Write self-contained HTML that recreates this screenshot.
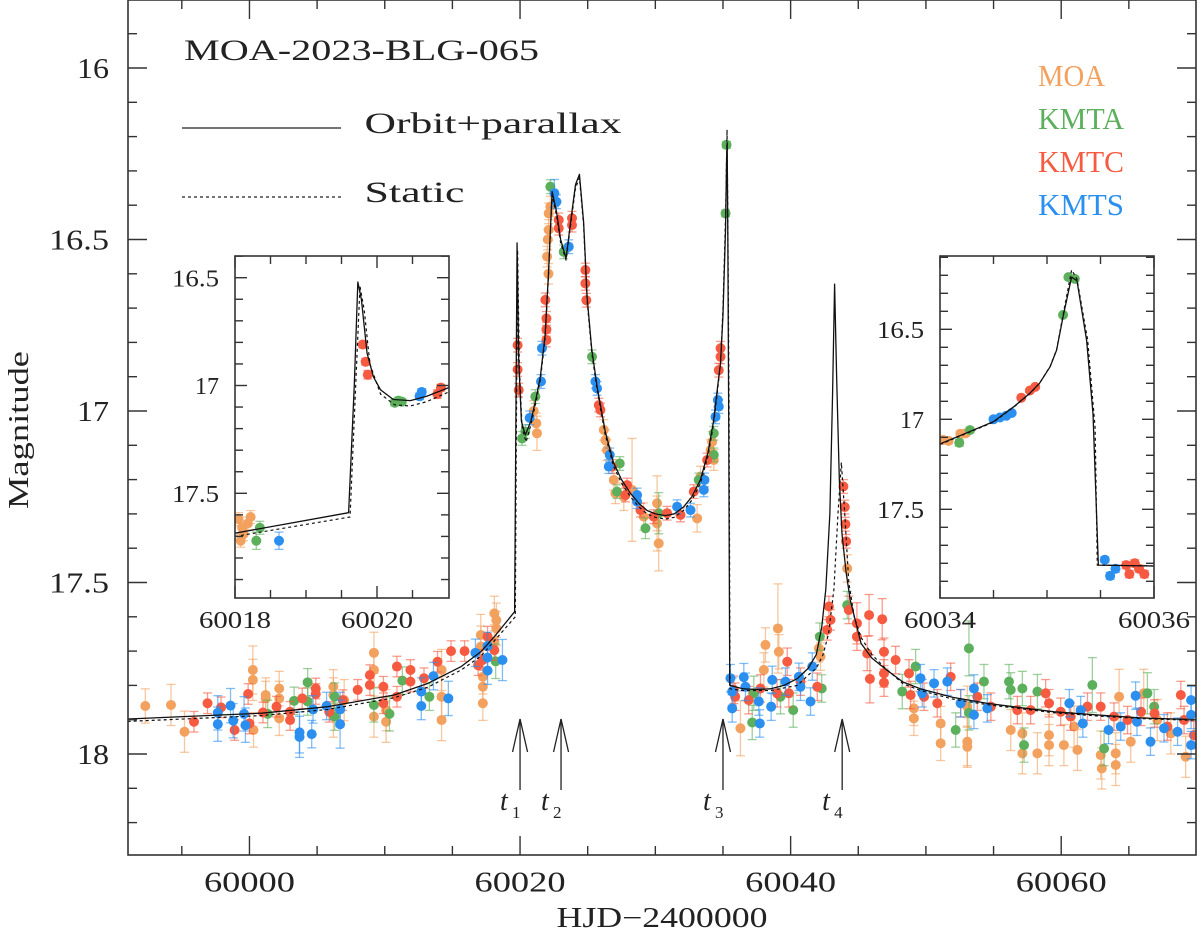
<!DOCTYPE html>
<html><head><meta charset="utf-8"><title>MOA-2023-BLG-065</title>
<style>
html,body{margin:0;padding:0;background:#fff;}
svg{display:block;}
text{font-family:"Liberation Serif","DejaVu Serif",serif;fill:#222;}
</style></head>
<body>
<svg id="chart" width="1200" height="930" viewBox="0 0 1200 930" xmlns="http://www.w3.org/2000/svg">
<defs>
<clipPath id="clipMain"><rect x="128" y="0" width="1068" height="855"/></clipPath>
<clipPath id="clipL"><rect x="235" y="256" width="214" height="342"/></clipPath>
<clipPath id="clipR"><rect x="940" y="256" width="214" height="342"/></clipPath>
</defs>
<rect x="0" y="0" width="1200" height="930" fill="#fff"/>
<g id="mainData" clip-path="url(#clipMain)"></g>
<g id="mainAxes"></g>
<rect x="235" y="256" width="214" height="342" fill="#fff"/>
<g id="insetLData" clip-path="url(#clipL)"></g>
<g id="insetLAxes"></g>
<rect x="940" y="256" width="214" height="342" fill="#fff"/>
<g id="insetRData" clip-path="url(#clipR)"></g>
<g id="insetRAxes"></g>

<text x="184" y="60" font-size="30" textLength="355" lengthAdjust="spacingAndGlyphs">MOA-2023-BLG-065</text>
<line x1="182" y1="128" x2="341" y2="128" stroke="#222" stroke-width="1.3"/>
<text x="364.5" y="133" font-size="30" textLength="257" lengthAdjust="spacingAndGlyphs">Orbit+parallax</text>
<line x1="182" y1="197" x2="341" y2="197" stroke="#222" stroke-width="1.3" stroke-dasharray="3,3"/>
<text x="364.5" y="202" font-size="30" textLength="100" lengthAdjust="spacingAndGlyphs">Static</text>
<text x="1038" y="86" font-size="31" textLength="67" lengthAdjust="spacingAndGlyphs" style="fill:#f3a15f">MOA</text>
<text x="1038" y="129" font-size="31" textLength="86" lengthAdjust="spacingAndGlyphs" style="fill:#5cb05c">KMTA</text>
<text x="1038" y="172" font-size="31" textLength="86" lengthAdjust="spacingAndGlyphs" style="fill:#f65a40">KMTC</text>
<text x="1038" y="215" font-size="31" textLength="86" lengthAdjust="spacingAndGlyphs" style="fill:#2b8ff0">KMTS</text>
<text transform="translate(28,430) rotate(-90)" text-anchor="middle" font-size="29" textLength="158" lengthAdjust="spacingAndGlyphs">Magnitude</text>
<text x="662" y="927" text-anchor="middle" font-size="28" textLength="211" lengthAdjust="spacingAndGlyphs">HJD−2400000</text>
<g id="arrows"></g>
</svg>
<script>
// ---------- data ----------
const seriesNames = ['MOA','KMTA','KMTC','KMTS'];
const seriesColors = ['#f3a15f','#5cb05c','#f65a40','#2b8ff0'];

const moaMain = [[59992.3,17.86,0.05],[59994.2,17.857,0.06],[59995.2,17.935,0.06],[60000.25,17.755,0.07],[60000.25,17.784,0.06],[60000.3,17.93,0.05],[60001.2,17.828,0.05],[60001.2,17.838,0.05],[60002.2,17.809,0.05],[60002.2,17.838,0.05],[60002.2,17.896,0.05],[60006.2,17.804,0.05],[60006.2,17.828,0.05],[60006.2,17.891,0.06],[60007.0,17.843,0.06],[60009.2,17.705,0.06],[60009.2,17.755,0.05],[60009.2,17.891,0.06],[60010.1,17.872,0.06],[60010.1,17.906,0.06],[60014.2,17.755,0.06],[60014.2,17.833,0.06],[60014.2,17.901,0.06],[60017.1,17.653,0.06],[60017.1,17.687,0.06],[60017.25,17.775,0.05],[60017.25,17.804,0.05],[60017.25,17.852,0.05],[60018.1,17.59,0.05],[60018.25,17.61,0.05],[60018.25,17.634,0.05],[60018.1,17.673,0.05],
[60021.01,17.0,0.03],[60021.2,17.036,0.03],[60021.25,17.065,0.05],[60022.0,16.55,0.03],[60022.12,16.472,0.03],[60022.12,16.424,0.03],[60022.24,16.404,0.03],[60022.05,16.5,0.03],[60022.1,16.6,0.03],[60026.19,17.055,0.03],[60026.31,17.085,0.03],[60026.43,17.114,0.03],[60026.93,17.201,0.03],[60027.05,17.24,0.03],[60027.67,17.25,0.04],[60028.28,17.23,0.15],[60029.14,17.308,0.04],[60030.13,17.269,0.08],[60030.25,17.386,0.08],[60030.13,17.328,0.08],[60033.09,17.313,0.04],[60034.08,17.114,0.03],[60034.2,17.09,0.03],[60034.32,17.143,0.03],[60033.34,17.191,0.03],
[60036.29,17.925,0.08],[60038.02,17.755,0.05],[60038.14,17.682,0.05],[60039.06,17.634,0.13],[60039.13,17.702,0.05],[60042.09,17.692,0.04],[60042.21,17.716,0.04],[60044.18,17.459,0.04],[60049.11,17.896,0.05],[60049.11,17.867,0.05],[60051.09,17.969,0.05],[60051.09,17.911,0.05],[60053.06,17.964,0.07],[60053.06,17.979,0.06],[60053.06,17.862,0.06],[60056.27,17.93,0.06],[60057.13,17.94,0.06],[60057.13,17.998,0.06],[60058.24,17.998,0.06],[60059.1,17.945,0.06],[60059.1,17.974,0.06],[60060.2,17.974,0.06],[60061.2,17.988,0.06],[60060.95,17.92,0.06],[60062.92,18.003,0.07],[60063.0,18.042,0.06],[60064.03,17.998,0.06],[60064.03,18.032,0.06],[60064.28,17.833,0.08],[60065.14,17.964,0.06],[60066.1,17.823,0.07],[60067.1,17.901,0.06],[60068.1,17.94,0.06],[60069.2,18.008,0.06]];

const kmtaMain = [[60001.35,17.883,0.04],[60003.3,17.845,0.04],[60004.3,17.791,0.04],[60004.3,17.847,0.04],[60006.3,17.833,0.04],[60006.3,17.891,0.04],[60009.2,17.857,0.05],[60010.35,17.883,0.05],[60011.3,17.786,0.04],[60013.3,17.833,0.04],[60018.2,17.73,0.05],
[60020.15,17.08,0.02],[60020.39,17.06,0.02],[60021.13,16.958,0.02],[60022.24,16.346,0.02],[60023.23,16.536,0.02],[60025.32,16.842,0.02],[60027.37,17.153,0.02],[60027.17,17.235,0.02],[60029.27,17.342,0.03],[60030.25,17.298,0.06],[60034.32,17.065,0.02],[60034.32,17.128,0.02],[60035.26,16.224,0.01],[60035.19,16.424,0.01],[60033.21,17.201,0.02],
[60037.16,17.908,0.05],[60037.28,17.823,0.05],[60039.25,17.833,0.05],[60040.19,17.872,0.05],[60042.16,17.658,0.04],[60042.3,17.809,0.04],[60044.18,17.566,0.04],[60048.25,17.818,0.05],[60049.24,17.745,0.05],[60052.2,17.93,0.05],[60053.18,17.692,0.08],[60053.18,17.88,0.05],[60054.29,17.789,0.05],[60056.14,17.789,0.05],[60056.27,17.813,0.05],[60057.13,17.809,0.05],[60057.25,17.974,0.05],[60058.24,17.818,0.05],[60062.3,17.799,0.08],[60063.17,17.984,0.05],[60066.37,17.823,0.06],[60066.87,17.862,0.05]];

const kmtcMain = [[59995.9,17.906,0.03],[59996.9,17.852,0.03],[59997.9,17.864,0.03],[59998.9,17.93,0.03],[59999.9,17.825,0.03],[60000.0,17.911,0.03],[60001.0,17.879,0.03],[60002.0,17.862,0.03],[60003.0,17.901,0.03],[60003.0,17.877,0.03],[60003.9,17.838,0.03],[60004.9,17.809,0.03],[60004.9,17.825,0.03],[60005.9,17.877,0.03],[60006.9,17.843,0.03],[60008.0,17.813,0.03],[60008.9,17.77,0.03],[60008.9,17.799,0.03],[60009.9,17.804,0.03],[60009.9,17.852,0.03],[60010.9,17.745,0.03],[60010.9,17.833,0.03],[60011.9,17.755,0.03],[60011.9,17.789,0.03],[60012.9,17.779,0.03],[60013.9,17.731,0.03],[60014.9,17.70,0.03],[60015.9,17.70,0.03],[60016.9,17.741,0.03],[60017.25,17.726,0.03],[60018.1,17.697,0.03],[60017.6,17.658,0.03],
[60019.82,16.808,0.02],[60019.82,16.879,0.02],[60019.9,16.939,0.02],[60021.87,16.676,0.02],[60021.95,16.73,0.02],[60021.95,16.762,0.02],[60021.95,16.793,0.02],[60022.86,16.443,0.02],[60022.86,16.467,0.02],[60023.84,16.438,0.02],[60023.84,16.458,0.02],[60024.83,16.589,0.02],[60024.83,16.628,0.02],[60024.9,16.677,0.02],[60025.82,16.983,0.02],[60025.94,16.997,0.02],[60026.8,17.162,0.02],[60027.79,17.245,0.02],[60027.91,17.216,0.02],[60028.9,17.289,0.02],[60029.88,17.308,0.02],[60030.87,17.298,0.02],[60031.86,17.303,0.02],[60032.84,17.235,0.02],[60033.83,17.143,0.02],[60034.69,16.881,0.02],[60034.82,16.842,0.02],[60034.82,16.817,0.02],
[60035.8,17.813,0.04],[60035.9,17.833,0.04],[60036.9,17.843,0.04],[60037.77,17.809,0.04],[60039.0,17.823,0.04],[60039.75,17.731,0.04],[60039.87,17.823,0.04],[60040.73,17.789,0.04],[60041.97,17.804,0.04],[60042.83,17.57,0.03],[60042.95,17.609,0.03],[60042.7,17.638,0.03],[60043.9,17.22,0.02],[60044.0,17.28,0.02],[60044.05,17.33,0.02],[60044.1,17.38,0.02],[60044.3,17.58,0.04],[60044.9,17.619,0.06],[60044.9,17.658,0.04],[60045.8,17.595,0.06],[60046.77,17.607,0.06],[60045.66,17.707,0.05],[60045.86,17.781,0.07],[60046.9,17.702,0.04],[60046.9,17.765,0.04],[60046.9,17.792,0.04],[60047.76,17.726,0.04],[60048.75,17.765,0.04],[60048.87,17.828,0.04],[60049.86,17.833,0.04],[60050.84,17.852,0.04],[60051.83,17.775,0.04],[60052.57,17.852,0.04],[60053.8,17.833,0.04],[60054.8,17.862,0.04],[60056.76,17.872,0.04],[60057.74,17.872,0.04],[60058.85,17.823,0.04],[60059.1,17.852,0.04],[60059.96,17.877,0.04],[60060.7,17.891,0.04],[60061.94,17.862,0.04],[60062.92,17.862,0.04],[60063.9,17.891,0.04],[60064.9,17.901,0.04],[60065.9,17.877,0.04],[60066.9,17.882,0.04],[60067.85,17.92,0.04],[60068.84,17.828,0.04],[60069.08,17.901,0.04],[60069.8,17.945,0.04]];

const kmtsMain = [[59997.66,17.88,0.05],[59997.66,17.913,0.05],[59998.6,17.859,0.05],[59998.8,17.903,0.05],[59999.6,17.883,0.05],[59999.7,17.916,0.05],[60003.7,17.937,0.06],[60003.7,17.95,0.06],[60004.6,17.942,0.04],[60004.7,17.87,0.04],[60005.7,17.86,0.04],[60006.7,17.87,0.05],[60006.7,17.913,0.07],[60012.7,17.818,0.04],[60012.7,17.86,0.04],[60013.6,17.773,0.04],[60014.7,17.838,0.05],[60016.7,17.705,0.04],[60017.6,17.685,0.04],[60017.6,17.719,0.04],[60017.6,17.757,0.04],[60018.7,17.726,0.06],
[60020.71,17.02,0.02],[60021.62,16.817,0.02],[60021.55,16.914,0.02],[60022.54,16.365,0.04],[60022.69,16.39,0.02],[60023.6,16.521,0.02],[60025.57,16.914,0.02],[60025.69,16.934,0.02],[60026.56,17.162,0.02],[60026.63,17.128,0.02],[60028.65,17.245,0.02],[60028.65,17.264,0.02],[60031.61,17.279,0.02],[60032.6,17.289,0.02],[60033.58,17.23,0.02],[60033.63,17.201,0.02],[60034.45,17.017,0.02],[60034.62,16.968,0.02],[60034.69,16.987,0.02],
[60035.55,17.779,0.04],[60035.68,17.818,0.04],[60035.68,17.867,0.04],[60036.54,17.776,0.04],[60036.66,17.804,0.04],[60037.65,17.847,0.04],[60037.72,17.911,0.04],[60038.64,17.784,0.04],[60038.56,17.862,0.04],[60039.62,17.789,0.04],[60040.61,17.775,0.04],[60040.73,17.804,0.04],[60041.47,17.847,0.04],[60041.6,17.745,0.04],[60049.6,17.779,0.04],[60049.73,17.823,0.04],[60050.6,17.794,0.04],[60051.58,17.789,0.04],[60052.57,17.852,0.04],[60053.55,17.809,0.04],[60053.55,17.886,0.04],[60054.54,17.867,0.04],[60060.6,17.852,0.04],[60061.44,17.872,0.04],[60061.6,17.911,0.04],[60063.5,17.93,0.04],[60064.4,17.92,0.04],[60065.5,17.83,0.04],[60065.6,17.906,0.04],[60066.6,17.964,0.04],[60067.6,17.925,0.04],[60068.6,17.935,0.04],[60069.6,17.843,0.04],[60069.6,17.886,0.04],[60069.6,17.974,0.04]];

// model curves (main)
const solidT = [59991,60000.9,60005.8,60010.7,60013.2,60015.65,60017.1,60018.1,60019.6,60019.68,60019.78,60019.9,60020.1,60020.39,60020.8,60021.2,60021.5,60021.85,60022.1,60022.37,60022.7,60023.0,60023.4,60023.8,60024.1,60024.39,60024.7,60024.96,60025.3,60025.7,60026.3,60026.9,60027.5,60028.16,60028.8,60029.39,60030.0,60030.75,60031.4,60032.08,60032.7,60033.34,60033.9,60034.3,60034.6,60034.82,60035.0,60035.19,60035.27,60035.31,60035.36,60035.42,60035.5,60036.5,60037.5,60038.5,60039.5,60040.5,60041.3,60041.9,60042.3,60042.6,60042.9,60043.1,60043.25,60043.4,60043.6,60043.8,60044.1,60044.4,60045.2,60046,60047.1,60048.3,60049.6,60052,60054.5,60057,60059.5,60063,60066,60070];
const solidM = [17.898,17.881,17.862,17.828,17.794,17.745,17.702,17.658,17.585,17.1,16.51,16.85,17.03,17.07,17.03,16.96,16.90,16.78,16.6,16.36,16.42,16.5,16.555,16.43,16.34,16.31,16.45,16.67,16.82,16.93,17.06,17.15,17.20,17.24,17.27,17.29,17.30,17.305,17.30,17.28,17.25,17.20,17.12,17.03,16.93,16.86,16.72,16.47,16.26,16.22,16.5,17.0,17.80,17.81,17.812,17.81,17.80,17.78,17.75,17.71,17.63,17.52,17.3,16.95,16.63,16.9,17.2,17.36,17.47,17.55,17.677,17.72,17.755,17.79,17.81,17.835,17.852,17.865,17.877,17.887,17.895,17.90];
const staticT = [59991,60000.9,60005.8,60010.7,60013.2,60015.65,60017.1,60018.1,60019.65,60019.72,60019.82,60019.95,60020.15,60020.45,60020.8,60021.2,60021.5,60021.85,60022.1,60022.37,60022.7,60023.0,60023.4,60023.8,60024.1,60024.39,60024.7,60024.96,60025.3,60025.7,60026.3,60026.9,60027.5,60028.16,60028.8,60029.39,60030.0,60030.75,60031.4,60032.08,60032.7,60033.34,60033.9,60034.3,60034.6,60034.82,60035.0,60035.2,60035.3,60035.36,60035.45,60035.52,60036.5,60038.5,60040.5,60041.3,60041.9,60042.4,60042.8,60043.2,60043.5,60043.75,60044.0,60044.3,60044.7,60045.2,60046,60047,60048.3,60049.6,60052,60054.5,60057,60059.5,60063,60066,60070];
const staticM = [17.905,17.888,17.87,17.836,17.805,17.755,17.715,17.67,17.6,17.1,16.53,16.87,17.05,17.09,17.04,16.97,16.91,16.79,16.61,16.37,16.43,16.51,16.56,16.44,16.35,16.32,16.46,16.68,16.83,16.94,17.07,17.16,17.21,17.25,17.28,17.3,17.31,17.315,17.31,17.29,17.26,17.21,17.13,17.04,16.94,16.86,16.70,16.42,16.18,16.45,17.0,17.81,17.815,17.815,17.80,17.77,17.75,17.71,17.65,17.52,17.3,17.15,17.3,17.5,17.6,17.66,17.71,17.75,17.795,17.815,17.84,17.856,17.868,17.88,17.89,17.897,17.902];

// left inset
const moaInsetL = [[60018.05,17.62,0.03],[60018.1,17.66,0.03],[60018.12,17.69,0.03],[60018.18,17.64,0.03],[60018.22,17.61,0.03],[60018.08,17.72,0.03]];
const kmtaInsetL = [[60018.3,17.72,0.04],[60018.35,17.66,0.03],[60020.25,17.08,0.015],[60020.3,17.07,0.015],[60020.35,17.075,0.015]];
const kmtcInsetL = [[60019.8,16.81,0.015],[60019.84,16.89,0.015],[60019.87,16.95,0.02],[60020.85,17.04,0.02],[60020.9,17.01,0.015]];
const kmtsInsetL = [[60018.62,17.72,0.04],[60020.6,17.05,0.015],[60020.63,17.03,0.015]];
const insetLSolidT = [60018,60019.6,60019.68,60019.73,60019.78,60019.86,60019.95,60020.05,60020.23,60020.47,60020.7,60021.01];
const insetLSolidM = [17.685,17.59,17.0,16.52,16.6,16.85,16.96,17.02,17.065,17.07,17.05,17.01];
const insetLStaticT = [60018,60019.62,60019.7,60019.76,60019.82,60019.9,60020.05,60020.25,60020.47,60020.7,60021.01];
const insetLStaticM = [17.70,17.61,17.0,16.54,16.65,16.9,17.04,17.09,17.095,17.075,17.03];

// right inset
const moaInsetR = [[60034.03,17.115,0.015],[60034.08,17.12,0.015],[60034.19,17.08,0.015],[60034.24,17.078,0.015]];
const kmtaInsetR = [[60034.18,17.13,0.02],[60034.28,17.06,0.015],[60035.15,16.42,0.01],[60035.2,16.21,0.01],[60035.26,16.22,0.01]];
const kmtcInsetR = [[60034.76,16.88,0.01],[60034.84,16.84,0.01],[60034.89,16.82,0.01],[60035.74,17.81,0.02],[60035.77,17.86,0.02],[60035.82,17.8,0.02],[60035.86,17.83,0.02],[60035.91,17.86,0.02]];
const kmtsInsetR = [[60034.5,17.0,0.01],[60034.56,16.99,0.01],[60034.62,16.98,0.01],[60034.67,16.965,0.01],[60035.54,17.78,0.015],[60035.59,17.87,0.02],[60035.64,17.83,0.02]];
const insetRSolidT = [60034,60034.25,60034.5,60034.69,60034.84,60034.93,60035.03,60035.09,60035.15,60035.23,60035.28,60035.37,60035.43,60035.48,60036];
const insetRSolidM = [17.137,17.075,17.013,16.93,16.855,16.80,16.707,16.615,16.43,16.21,16.23,16.56,16.97,17.81,17.815];
const insetRStaticT = [60034,60034.25,60034.5,60034.69,60034.84,60034.93,60035.03,60035.09,60035.15,60035.23,60035.28,60035.38,60035.45,60035.47,60036];
const insetRStaticM = [17.14,17.078,17.016,16.932,16.857,16.80,16.705,16.612,16.42,16.17,16.22,16.56,17.05,17.81,17.815];

// ticks
const mainXMajor = [60000,60020,60040,60060];
const mainXMinor = [59995,60005,60010,60015,60025,60030,60035,60045,60050,60055,60065];
const mainYMajor = ['16','16.5','17','17.5','18'];
const insetLXMajor = ['60018','60020'];
const insetRXMajor = ['60034','60036'];
const insetYMajor = ['16.5','17','17.5'];
const causticLabels = ['1','2','3','4'];
const causticTimes = [60020.0,60023.03,60035.0,60043.81];

// ---------- helpers ----------
const NS='http://www.w3.org/2000/svg';
function mk(tag, attrs, parent){const e=document.createElementNS(NS,tag);for(const k in attrs)e.setAttribute(k,attrs[k]);parent.appendChild(e);return e;}

function axes(x0,x1,t0,t1,y0,y1,m0,m1){
  return {x:t=>x0+(t-t0)/(t1-t0)*(x1-x0), y:m=>y0+(m-m0)/(m1-m0)*(y1-y0), x0,x1,y0,y1};
}
const AM = axes(127.7,1196.5,59991,60070, 68,754,16,18);
const AL = axes(235,377,60018,60020, 277.7,493.3,16.5,17.5);
const AR = axes(940,1154,60034,60036, 329.3,509.3,16.5,17.5);

function drawPoints(g, data, color, A, key){
  const grp=mk('g',{},g);
  
  
  data.forEach(p=>{
    const x=A.x(p[0]), y=A.y(p[1]), ya=A.y(p[1]-p[2]), yb=A.y(p[1]+p[2]);
    const eg=mk('g',{stroke:color,'stroke-opacity':0.6,'stroke-width':1.3},grp);
    
    
    mk('line',{x1:x,y1:ya,x2:x,y2:yb},eg);
    mk('line',{x1:x-4.5,y1:ya,x2:x+4.5,y2:ya},eg);
    mk('line',{x1:x-4.5,y1:yb,x2:x+4.5,y2:yb},eg);
    const c=mk('circle',{cx:x,cy:y,r:5,fill:color},grp);
    
    
  });
}
function drawCurve(g, T, M, A, dashed, key){
  let d='';
  for(let i=0;i<T.length;i++){d+=(i?'L':'M')+A.x(T[i]).toFixed(2)+','+A.y(M[i]).toFixed(2);}
  const p=mk('path',{d:d,fill:'none',stroke:'#111','stroke-width':dashed?1.2:1.3,'stroke-dasharray':dashed?'3,3':'none','stroke-linejoin':'round'},g);
  
  
}
function frame(g, A, xMaj, xMin, yMaj, yMinStart, yMinEnd, majL, minL, xLab, yLab, fsz, xTL, xBase, yRight){
  const r=mk('rect',{x:A.x0,y:A.y0box,width:A.x1-A.x0,height:A.y1box-A.y0box,fill:'none',stroke:'#333','stroke-width':1.6},g);
  
  
  const tg=mk('g',{stroke:'#333','stroke-width':1.4},g);
  
  
  xMaj.forEach(v=>{const x=A.x(+v);mk('line',{x1:x,y1:A.y1box,x2:x,y2:A.y1box-majL},tg);mk('line',{x1:x,y1:A.y0box,x2:x,y2:A.y0box+majL},tg);});
  xMin.forEach(v=>{const x=A.x(v);mk('line',{x1:x,y1:A.y1box,x2:x,y2:A.y1box-minL},tg);mk('line',{x1:x,y1:A.y0box,x2:x,y2:A.y0box+minL},tg);});
  for(let k=Math.round(yMinStart*10);k<=Math.round(yMinEnd*10);k++){
    const m=k/10, y=A.y(m);
    const isMaj = yMaj.some(v=>Math.abs(+v-m)<1e-6);
    const L=isMaj?majL:minL;
    mk('line',{x1:A.x0,y1:y,x2:A.x0+L,y2:y},tg);
    mk('line',{x1:A.x1,y1:y,x2:A.x1-L,y2:y},tg);
  }
  if(xLab){xMaj.forEach(v=>{
    const t=mk('text',{x:A.x(+v),y:xBase,'text-anchor':'middle','font-size':fsz,textLength:xTL,lengthAdjust:'spacingAndGlyphs'},g);
    t.textContent=String(v);
    
    
  });}
  if(yLab){yMaj.forEach(v=>{
    const w = v.length>2 ? (fsz>26?60:47) : (fsz>26?32:24);
    const t=mk('text',{x:yRight,y:A.y(+v)+fsz*0.36,'text-anchor':'end','font-size':fsz,textLength:w,lengthAdjust:'spacingAndGlyphs'},g);
    t.textContent=v;
    
    
  });}
}

// ---------- main ----------
const gMain=document.getElementById('mainData');
const mainSets=[moaMain,kmtaMain,kmtcMain,kmtsMain];
mainSets.forEach((s,i)=>drawPoints(gMain,s,seriesColors[i],AM,'main-'+seriesNames[i].toLowerCase()));
drawCurve(gMain,staticT,staticM,AM,true,'static-model-curve');
drawCurve(gMain,solidT,solidM,AM,false,'orbit-parallax-model-curve');
AM.y0box=0; AM.y1box=855; AM.x0=128; AM.x1=1196;
frame(document.getElementById('mainAxes'),AM,mainXMajor,mainXMinor,mainYMajor,15.9,18.2,19,9,true,true,28,91,891.5,109);

// ---------- left inset ----------
const gL=document.getElementById('insetLData');
[moaInsetL,kmtaInsetL,kmtcInsetL,kmtsInsetL].forEach((s,i)=>drawPoints(gL,s,seriesColors[i],AL,'inset-left-'+seriesNames[i].toLowerCase()));
drawCurve(gL,insetLStaticT,insetLStaticM,AL,true,'inset-left-static-curve');
drawCurve(gL,insetLSolidT,insetLSolidM,AL,false,'inset-left-orbit-curve');
AL.x0=235; AL.x1=449; AL.y0box=256; AL.y1box=598;
frame(document.getElementById('insetLAxes'),AL,insetLXMajor,[60018.5,60019,60019.5,60020.5],insetYMajor,16.4,17.9,12,8,true,true,24,72,628,219);

// ---------- right inset ----------
const gR=document.getElementById('insetRData');
[moaInsetR,kmtaInsetR,kmtcInsetR,kmtsInsetR].forEach((s,i)=>drawPoints(gR,s,seriesColors[i],AR,'inset-right-'+seriesNames[i].toLowerCase()));
drawCurve(gR,insetRStaticT,insetRStaticM,AR,true,'inset-right-static-curve');
drawCurve(gR,insetRSolidT,insetRSolidM,AR,false,'inset-right-orbit-curve');
AR.x0=940; AR.x1=1154; AR.y0box=256; AR.y1box=598;
frame(document.getElementById('insetRAxes'),AR,insetRXMajor,[60034.5,60035,60035.5],insetYMajor,16.1,17.9,12,8,true,true,24,72,628,924);

// ---------- caustic arrows ----------
const gA=document.getElementById('arrows');
causticTimes.forEach((t,i)=>{
  const x=AM.x(t);
  const g=mk('g',{},gA);
  
  
  mk('line',{x1:x,y1:719,x2:x,y2:790,stroke:'#222','stroke-width':1.3},g);
  mk('path',{d:'M'+(x-7.5)+',752L'+x+',719L'+(x+7.5)+',752',fill:'none',stroke:'#222','stroke-width':1.3},g);
  const tx=mk('text',{x:x-20,y:810,'font-size':28,'font-style':'italic'},g);
  tx.textContent='t';
  const sb=mk('text',{x:x-8,y:818,'font-size':17},g);
  sb.textContent=causticLabels[i];
});
</script>
</body></html>
